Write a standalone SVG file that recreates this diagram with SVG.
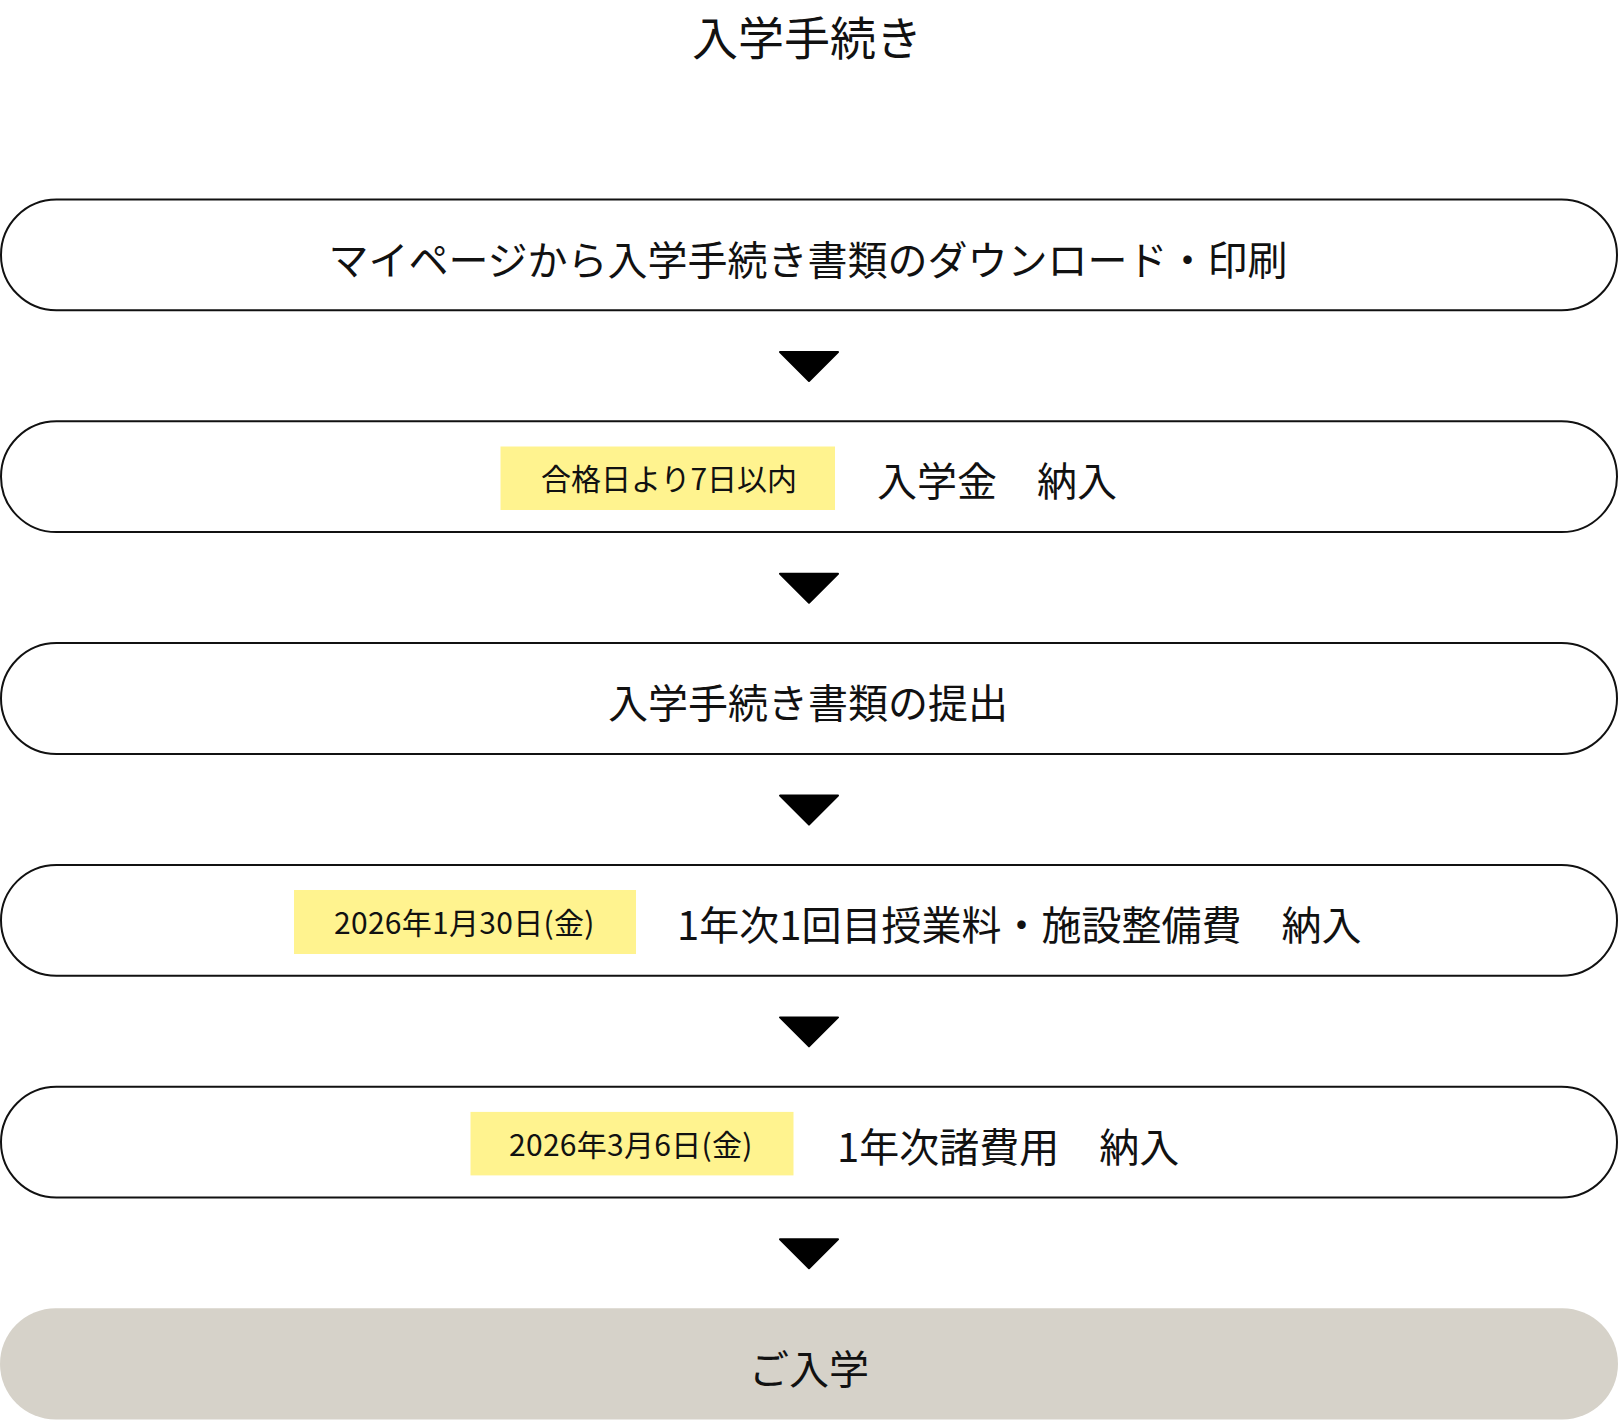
<svg xmlns="http://www.w3.org/2000/svg" width="1618" height="1422" viewBox="0 0 1618 1422">
<defs>
<style>
.t{font-family:"Noto Sans CJK JP","Noto Sans",sans-serif;fill:#111;}
.title{font-size:46px;}
.main{font-size:40px;}
.tag{font-size:30px;}
.date{letter-spacing:0.3px;}
.pill{fill:#fff;stroke:#111;stroke-width:2;}
.end{fill:#d6d2c9;}
.hl{fill:#fff38f;}
.arr{fill:#000;stroke:#000;stroke-width:2;stroke-linejoin:round;}
</style>
</defs>
<rect width="1618" height="1422" fill="#fff"/>
<g id="title"><text class="t title" x="807" y="55" text-anchor="middle">入学手続き</text></g>
<g id="connectors">
<polygon class="arr" points="780,352 838,352 809,381"/>
<polygon class="arr" points="780,573.8 838,573.8 809,602.8"/>
<polygon class="arr" points="780,795.6 838,795.6 809,824.6"/>
<polygon class="arr" points="780,1017.4 838,1017.4 809,1046.4"/>
<polygon class="arr" points="780,1239.2 838,1239.2 809,1268.2"/>
</g>
<g id="step1">
<rect class="pill" x="1" y="199.5" width="1616" height="110.8" rx="55.4"/>
<text class="t main" x="808" y="274.6" text-anchor="middle">マイページから入学手続き書類のダウンロード・印刷</text>
</g>
<g id="step2">
<rect class="pill" x="1" y="421.3" width="1616" height="110.8" rx="55.4"/>
<rect class="hl" x="500.5" y="446.5" width="334.5" height="63.5"/>
<text class="t tag" x="541" y="490.4">合格日より7日以内</text>
<text class="t main" x="877" y="496.4">入学金　納入</text>
</g>
<g id="step3">
<rect class="pill" x="1" y="643.1" width="1616" height="110.8" rx="55.4"/>
<text class="t main" x="808" y="718.2" text-anchor="middle">入学手続き書類の提出</text>
</g>
<g id="step4">
<rect class="pill" x="1" y="864.9" width="1616" height="110.8" rx="55.4"/>
<rect class="hl" x="294" y="890" width="342" height="64"/>
<text class="t tag date" x="334" y="934">2026年1月30日(金)</text>
<text class="t main" x="677" y="940">1年次1回目授業料・施設整備費　納入</text>
</g>
<g id="step5">
<rect class="pill" x="1" y="1086.7" width="1616" height="110.8" rx="55.4"/>
<rect class="hl" x="470.5" y="1111.9" width="323" height="63.5"/>
<text class="t tag date" x="509" y="1155.8">2026年3月6日(金)</text>
<text class="t main" x="837" y="1161.8">1年次諸費用　納入</text>
</g>
<g id="step6">
<rect class="end" x="0" y="1308.2" width="1618" height="111.4" rx="55.7"/>
<text class="t main" x="809" y="1383.6" text-anchor="middle">ご入学</text>
</g>
</svg>
